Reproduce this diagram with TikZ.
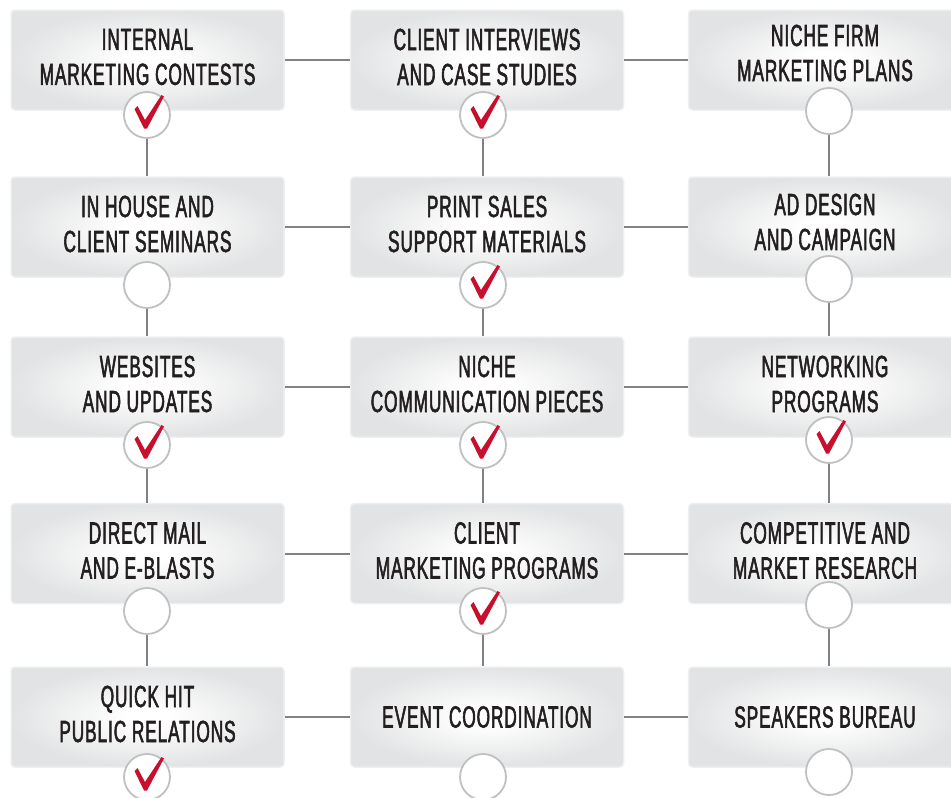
\documentclass[tikz,border=0pt]{standalone}
\usepackage{fontspec}
\newfontfamily\boxfont{Liberation Sans}[FakeStretch=0.565, LetterSpace=3, FakeBold=1.8]
\definecolor{edgegrey}{RGB}{226,227,228}
\definecolor{linegrey}{RGB}{128,130,133}
\definecolor{ringgrey}{RGB}{190,192,194}
\definecolor{checkred}{RGB}{200,16,46}
\definecolor{txt}{RGB}{35,31,32}
\definecolor{rimgrey}{RGB}{238,239,240}
\pgfdeclareradialshading{boxshade}{\pgfpoint{0bp}{0bp}}{color(0bp)=(white); color(4bp)=(white); color(25bp)=(edgegrey); color(50bp)=(edgegrey)}
\newcommand{\tick}[1]{\fill[checkred, shift={(#1.center)}] (-12.5,-6) -- (-9.5,-9) -- (-2,5) -- (14.5,-20) -- (17,-18.5) -- (0,13.5) -- (-3,13.5) -- cycle;}
\begin{document}
\begin{tikzpicture}[x=1pt,y=-1pt,
  mbox/.style={shape=rectangle, minimum width=273pt, minimum height=100pt, rounded corners=4pt, shading=boxshade, draw=rimgrey, line width=1.5pt},
  lbl/.style={align=center, text=txt, font=\boxfont\fontsize{30.5}{35}\selectfont, inner sep=0pt},
  ring/.style={circle, minimum size=46pt, inner sep=0pt, fill=white, draw=ringgrey, line width=1.8pt},
  conn/.style={draw=linegrey, line width=2pt}]
\useasboundingbox (0,0) rectangle (951,798);
% boxes
\node[mbox] (b11) at (147.5,60) {};
\node[mbox] (b12) at (487,60) {};
\node[mbox] (b13) at (825,60) {};
\node[mbox] (b21) at (147.5,227) {};
\node[mbox] (b22) at (487,227) {};
\node[mbox] (b23) at (825,227) {};
\node[mbox] (b31) at (147.5,387) {};
\node[mbox] (b32) at (487,387) {};
\node[mbox] (b33) at (825,387) {};
\node[mbox] (b41) at (147.5,553.5) {};
\node[mbox] (b42) at (487,553.5) {};
\node[mbox] (b43) at (825,553.5) {};
\node[mbox] (b51) at (147.5,717) {};
\node[mbox] (b52) at (487,717) {};
\node[mbox] (b53) at (825,717) {};
% horizontal connectors
\foreach \r in {1,...,5}{
  \draw[conn] (b\r1.east) -- (b\r2.west);
  \draw[conn] (b\r2.east) -- (b\r3.west);
}
% circles
\node[ring] (c11) at (147,115) {};
\node[ring] (c12) at (483,115) {};
\node[ring] (c13) at (829,111) {};
\node[ring] (c21) at (147,285) {};
\node[ring] (c22) at (483,285) {};
\node[ring] (c23) at (829,279) {};
\node[ring] (c31) at (147,445) {};
\node[ring] (c32) at (483,445) {};
\node[ring] (c33) at (829,440) {};
\node[ring] (c41) at (147,611) {};
\node[ring] (c42) at (483,611) {};
\node[ring] (c43) at (829,605) {};
\node[ring] (c51) at (147,777) {};
\node[ring] (c52) at (483,777) {};
\node[ring] (c53) at (829,772) {};
% vertical connectors
\foreach \r/\n in {1/2,2/3,3/4,4/5}{
  \foreach \c in {1,2,3}{
    \draw[conn] (c\r\c.south) -- (c\r\c.south |- b\n\c.north);
  }
}
% checks
\tick{c11}\tick{c12}
\tick{c22}
\tick{c31}\tick{c32}\tick{c33}
\tick{c42}
\tick{c51}
% labels
\node[lbl] (t11) at ([yshift=3pt]b11.center) {INTERNAL\\MARKETING CONTESTS};
\node[lbl] (t12) at ([yshift=3pt]b12.center) {CLIENT INTERVIEWS\\AND CASE STUDIES};
\node[lbl] (t13) at ([yshift=7pt]b13.center) {NICHE FIRM\\MARKETING PLANS};
\node[lbl] (t21) at ([yshift=3pt]b21.center) {IN HOUSE AND\\CLIENT SEMINARS};
\node[lbl] (t22) at ([yshift=3pt]b22.center) {PRINT SALES\\SUPPORT MATERIALS};
\node[lbl] (t23) at ([yshift=5pt]b23.center) {AD DESIGN\\AND CAMPAIGN};
\node[lbl] (t31) at ([yshift=3pt]b31.center) {WEBSITES\\AND UPDATES};
\node[lbl] (t32) at ([yshift=3pt]b32.center) {NICHE\\COMMUNICATION PIECES};
\node[lbl] (t33) at ([yshift=3pt]b33.center) {NETWORKING\\PROGRAMS};
\node[lbl] (t41) at ([yshift=3pt]b41.center) {DIRECT MAIL\\AND E-BLASTS};
\node[lbl] (t42) at ([yshift=3pt]b42.center) {CLIENT\\MARKETING PROGRAMS};
\node[lbl] (t43) at ([yshift=3pt]b43.center) {COMPETITIVE AND\\MARKET RESEARCH};
\node[lbl] (t51) at ([yshift=3pt]b51.center) {QUICK HIT\\PUBLIC RELATIONS};
\node[lbl] (t52) at (b52.center) {EVENT COORDINATION};
\node[lbl] (t53) at (b53.center) {SPEAKERS BUREAU};
\end{tikzpicture}
\end{document}
